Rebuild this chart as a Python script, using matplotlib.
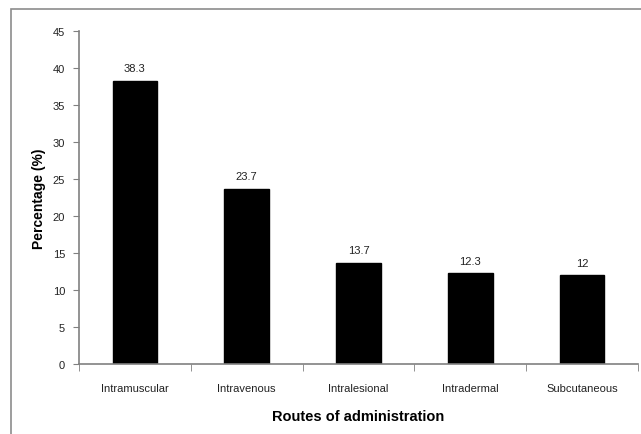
import numpy as np
import matplotlib
matplotlib.use("Agg")
from matplotlib import pyplot as plt
from matplotlib.patches import Rectangle

# data
routes = ['Intramuscular', 'Intravenous', 'Intralesional', 'Intradermal', 'Subcutaneous']
percent = [38.3, 23.7, 13.7, 12.3, 12]
value_labels = ['38.3', '23.7', '13.7', '12.3', '12']

plt.rcParams['font.family'] = ['Liberation Sans', 'DejaVu Sans']

fig = plt.figure(figsize=(6.41, 4.35), dpi=100)

# grey frame round the chart area (runs off the right and bottom edge like the original)
frame = Rectangle((11 / 641, -0.05), 1.2, 1 - 10 / 435 + 0.05, transform=fig.transFigure,
                  fill=False, edgecolor='#8c8c8c', linewidth=1.2, clip_on=False)
fig.patches.append(frame)

ax = fig.add_axes([79 / 641, 1 - 365 / 435, (638 - 79) / 641, (365 - 32) / 435])

x = np.arange(len(routes))
ax.bar(x, percent, width=0.4, color='black', edgecolor='black')

for xi, v, lab in zip(x, percent, value_labels):
    ax.text(xi, v + 1.0, lab, ha='center', va='bottom', fontsize=8, color='#222222')

ax.set_xlim(-0.5, len(routes) - 0.5)
ax.set_ylim(0, 45)
ax.set_yticks(np.arange(0, 46, 5))

# category labels centred, tick marks on the boundaries
ax.set_xticks(x)
ax.set_xticklabels(routes, fontsize=8, color='#222222')
ax.tick_params(axis='x', which='major', length=0, pad=14)
ax.set_xticks(np.arange(-0.5, len(routes)), minor=True)
ax.tick_params(axis='x', which='minor', length=5, color='#808080', direction='out')
ax.tick_params(axis='y', length=4, color='#808080', labelsize=8, labelcolor='#222222', pad=6)

for s in ['top', 'right']:
    ax.spines[s].set_visible(False)
for s in ['left', 'bottom']:
    ax.spines[s].set_color('#808080')
    ax.spines[s].set_linewidth(1.2)

ax.set_xlabel('Routes of administration', fontsize=10.5, fontweight='bold', labelpad=11)
ax.set_ylabel('Percentage (%)', fontsize=10, fontweight='bold', labelpad=5)

plt.savefig('out.png', dpi=100)
